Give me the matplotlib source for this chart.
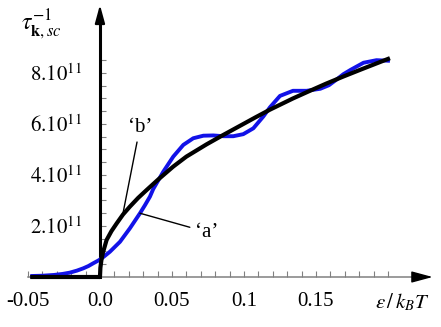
import numpy as np
import matplotlib.pyplot as plt
from matplotlib.ticker import FixedLocator

plt.rcParams['font.family'] = ['Liberation Serif', 'DejaVu Serif']
plt.rcParams['mathtext.fontset'] = 'stix'

# curve 'b' (black)
eps_b = [-0.047, 0.0, 0.0003, 0.001, 0.002, 0.0046, 0.008, 0.0116, 0.016, 0.0208,
         0.0265, 0.0324, 0.04, 0.0509, 0.06, 0.074, 0.085, 0.097, 0.108, 0.118,
         0.134, 0.145, 0.157, 0.169, 0.181, 0.2]
tau_b = [0.0, 0.0, 0.36, 0.66, 0.94, 1.45, 1.8, 2.1, 2.45, 2.76,
         3.1, 3.41, 3.8, 4.33, 4.72, 5.2, 5.55, 5.92, 6.26, 6.56,
         7.0, 7.28, 7.58, 7.86, 8.13, 8.55]

# curve 'a' (blue)
eps_a = [-0.047, -0.04, -0.032, -0.026, -0.021, -0.016, -0.0116, -0.008, -0.0046, -0.001,
         0.0012, 0.0069, 0.0139, 0.0208, 0.0278, 0.0313, 0.0347, 0.037, 0.044, 0.0509,
         0.0579, 0.0648, 0.0718, 0.0787, 0.0856, 0.0926, 0.0995, 0.1065, 0.1134, 0.118,
         0.125, 0.134, 0.1435, 0.153, 0.159, 0.164, 0.169, 0.174, 0.183, 0.192, 0.2]
tau_a = [0.04, 0.05, 0.08, 0.12, 0.17, 0.25, 0.34, 0.43, 0.54, 0.65,
         0.73, 0.99, 1.38, 1.91, 2.5, 2.82, 3.15, 3.45, 4.13, 4.72,
         5.18, 5.44, 5.54, 5.55, 5.52, 5.52, 5.6, 5.83, 6.29, 6.65,
         7.1, 7.3, 7.3, 7.38, 7.52, 7.73, 7.95, 8.12, 8.4, 8.5, 8.48]

xticks = [-0.05, 0.0, 0.05, 0.1, 0.15]
xtick_labels = ['-0.05', '0.0', '0.05', '0.1', '0.15']
yticks = [2, 4, 6, 8]
ytick_labels = [r'$2.10^{11}$', r'$4.10^{11}$', r'$6.10^{11}$', r'$8.10^{11}$']

fig = plt.figure(figsize=(4.41, 3.27), dpi=100)
ax = fig.add_axes([0, 0, 1, 1])
ax.set_xlim(-0.0694, 0.2368)
ax.set_ylim(-1.96, 10.86)

ax.plot(eps_a, tau_a, color='#1212e8', lw=2.8, zorder=3)
ax.plot(eps_b, tau_b, color='black', lw=3, zorder=4)

# axes through the origin
for s in ['top', 'right']:
    ax.spines[s].set_visible(False)
ax.spines['left'].set_position(('data', 0))
ax.spines['bottom'].set_position(('data', 0))
ax.spines['left'].set_bounds(0, 10.2)
ax.spines['left'].set_linewidth(2.2)
ax.spines['left'].set_color('black')
ax.spines['bottom'].set_bounds(-0.05, 0.222)
ax.spines['bottom'].set_linewidth(1.1)
ax.spines['bottom'].set_color('#808080')

ax.set_xticks(xticks, xtick_labels)
ax.set_yticks(yticks, ytick_labels)
ax.xaxis.set_minor_locator(FixedLocator(np.arange(-0.05, 0.2001, 0.01)))
ax.yaxis.set_minor_locator(FixedLocator(np.arange(0.5, 8.51, 0.5)))
ax.tick_params(which='both', direction='in', color='#808080', width=0.8, length=4)
ax.tick_params(axis='x', labelsize=15, pad=11)
ax.tick_params(axis='y', labelsize=15, pad=13)

# arrow heads
ax.annotate('', xy=(0, 10.67), xytext=(0, 10.0),
            arrowprops=dict(arrowstyle='-|>,head_length=1.1,head_width=0.3',
                            color='black', lw=1.5, shrinkA=0, shrinkB=0))
ax.annotate('', xy=(0.231, 0), xytext=(0.218, 0),
            arrowprops=dict(arrowstyle='-|>,head_length=1.3,head_width=0.35',
                            color='black', lw=1, shrinkA=0, shrinkB=0))

# curve labels
ax.annotate('‘b’', xy=(0.016, 2.5), xytext=(0.0278, 5.88), ha='center', va='center',
            fontsize=15, arrowprops=dict(arrowstyle='-', color='black', lw=1, shrinkB=0))
ax.annotate('‘a’', xy=(0.0278, 2.5), xytext=(0.0743, 1.76), ha='center', va='center',
            fontsize=15, arrowprops=dict(arrowstyle='-', color='black', lw=1, shrinkB=0))

ax.text(-0.0403, 9.88, r'$\tau^{-1}_{\mathbf{k},sc}$', fontsize=17, ha='center', va='center')
ax.text(0.21, -0.98, r'$\varepsilon\,/\,k_B T$', fontsize=15, ha='center', va='center')

fig.savefig('out.png', dpi=100)
